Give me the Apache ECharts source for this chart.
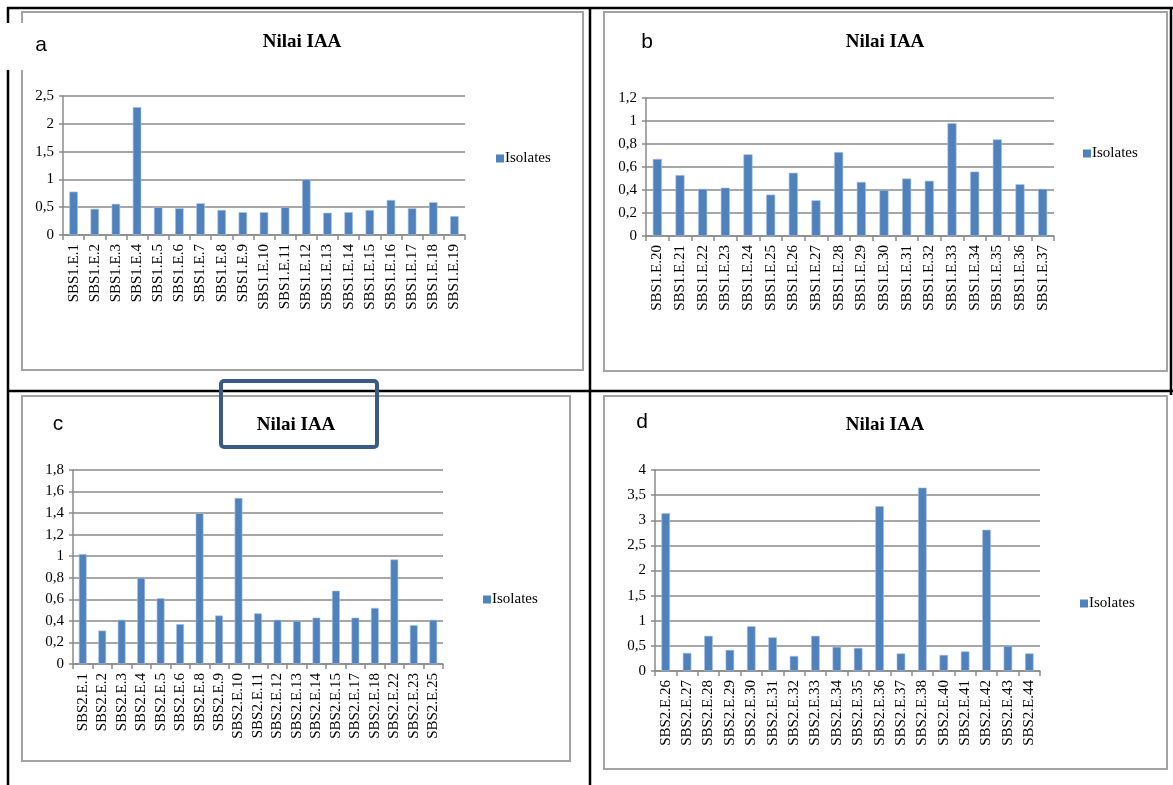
<!DOCTYPE html>
<html>
<head>
<meta charset="utf-8">
<script src="https://cdn.jsdelivr.net/npm/echarts@6/dist/echarts.min.js"></script>
<style>
  html, body { margin: 0; padding: 0; background: #fff; }
  #chart { width: 1173px; height: 785px; }
</style>
</head>
<body>
<div id="chart"></div>
<script>
// categories and values per panel
const catsA = ['SBS1.E.1', 'SBS1.E.2', 'SBS1.E.3', 'SBS1.E.4', 'SBS1.E.5', 'SBS1.E.6', 'SBS1.E.7', 'SBS1.E.8', 'SBS1.E.9', 'SBS1.E.10',
  'SBS1.E.11', 'SBS1.E.12', 'SBS1.E.13', 'SBS1.E.14', 'SBS1.E.15', 'SBS1.E.16', 'SBS1.E.17', 'SBS1.E.18', 'SBS1.E.19']
const valsA = [0.78, 0.47, 0.56, 2.30, 0.50, 0.48, 0.57, 0.45, 0.41, 0.41, 0.50, 1.00, 0.40, 0.41, 0.45, 0.63, 0.48, 0.59, 0.34]

const catsB = ['SBS1.E.20', 'SBS1.E.21', 'SBS1.E.22', 'SBS1.E.23', 'SBS1.E.24', 'SBS1.E.25', 'SBS1.E.26', 'SBS1.E.27', 'SBS1.E.28',
  'SBS1.E.29', 'SBS1.E.30', 'SBS1.E.31', 'SBS1.E.32', 'SBS1.E.33', 'SBS1.E.34', 'SBS1.E.35', 'SBS1.E.36', 'SBS1.E.37']
const valsB = [0.67, 0.53, 0.41, 0.42, 0.71, 0.36, 0.55, 0.31, 0.73, 0.47, 0.40, 0.50, 0.48, 0.98, 0.56, 0.84, 0.45, 0.41]

const catsC = ['SBS2.E.1', 'SBS2.E.2', 'SBS2.E.3', 'SBS2.E.4', 'SBS2.E.5', 'SBS2.E.6', 'SBS2.E.8', 'SBS2.E.9', 'SBS2.E.10', 'SBS2.E.11',
  'SBS2.E.12', 'SBS2.E.13', 'SBS2.E.14', 'SBS2.E.15', 'SBS2.E.17', 'SBS2.E.18', 'SBS2.E.22', 'SBS2.E.23', 'SBS2.E.25']
const valsC = [1.02, 0.31, 0.41, 0.80, 0.61, 0.37, 1.40, 0.45, 1.54, 0.47, 0.41, 0.40, 0.43, 0.68, 0.43, 0.52, 0.97, 0.36, 0.41]

const catsD = ['SBS2.E.26', 'SBS2.E.27', 'SBS2.E.28', 'SBS2.E.29', 'SBS2.E.30', 'SBS2.E.31', 'SBS2.E.32', 'SBS2.E.33', 'SBS2.E.34',
  'SBS2.E.35', 'SBS2.E.36', 'SBS2.E.37', 'SBS2.E.38', 'SBS2.E.40', 'SBS2.E.41', 'SBS2.E.42', 'SBS2.E.43', 'SBS2.E.44']
const valsD = [3.14, 0.36, 0.70, 0.42, 0.89, 0.67, 0.30, 0.70, 0.48, 0.46, 3.28, 0.35, 3.65, 0.32, 0.39, 2.81, 0.50, 0.35]

// y axis ranges [max, interval]
const yMaxes = [2.5, 1.2, 1.8, 4]
const yIntervals = [0.5, 0.2, 0.2, 0.5]
const panelLetters = ['a', 'b', 'c', 'd']
const seriesName = 'Isolates'
const chartTitle = 'Nilai IAA'

const serif = '"Liberation Serif", "Times New Roman", serif'
const gridColor = '#8a8a8a'
const barColor = '#4f81bd'

// plot area of every panel
const grids = [
  { left: 63, top: 96, width: 402, height: 139 },
  { left: 646, top: 98, width: 408, height: 138 },
  { left: 73, top: 470, width: 370, height: 194 },
  { left: 655, top: 470, width: 385, height: 201 }
]
const titlePos = [[302, 33], [885, 33], [296, 416], [885, 416]]
const letterPos = [[41, 35], [647, 32], [58, 414], [642, 412]]
const legendPos = [[496, 151], [1083, 146], [483, 592], [1080, 596]]

const cats = [catsA, catsB, catsC, catsD]
const vals = [valsA, valsB, valsC, valsD]

const fmtComma = v => String(+(+v).toFixed(2)).replace('.', ',')

const option = {
  animation: false,
  backgroundColor: '#fff',
  title: [
    ...titlePos.map(p => ({
      text: chartTitle,
      left: p[0],
      top: p[1],
      textAlign: 'center',
      padding: 0,
      textStyle: { fontFamily: serif, fontSize: 19, fontWeight: 'bold', color: '#000' }
    })),
    ...letterPos.map((p, i) => ({
      text: panelLetters[i],
      left: p[0],
      top: p[1],
      textAlign: 'center',
      padding: 0,
      z: 20,
      textStyle: { fontFamily: '"Liberation Sans", Arial, sans-serif', fontSize: 21, fontWeight: 'normal', color: '#000' }
    }))
  ],
  legend: legendPos.map(p => ({
    data: [seriesName],
    left: p[0],
    top: p[1],
    padding: 0,
    icon: 'rect',
    itemWidth: 8,
    itemHeight: 8,
    itemGap: 2,
    selectedMode: false,
    itemStyle: { color: barColor, borderWidth: 0 },
    textStyle: { fontFamily: serif, fontSize: 15, color: '#000', padding: [0, 0, 0, -4] }
  })),
  grid: grids.map(g => ({ ...g, containLabel: false })),
  xAxis: cats.map((c, i) => ({
    type: 'category',
    gridIndex: i,
    data: c,
    axisLine: { lineStyle: { color: gridColor, width: 1.5 } },
    axisTick: { show: true, length: 5, lineStyle: { color: gridColor, width: 1.5 } },
    axisLabel: {
      interval: 0,
      rotate: 90,
      margin: 9,
      fontFamily: serif,
      fontSize: 15,
      color: '#000'
    },
    splitLine: { show: false }
  })),
  yAxis: yMaxes.map((m, i) => ({
    type: 'value',
    gridIndex: i,
    min: 0,
    max: m,
    interval: yIntervals[i],
    axisLine: { show: true, lineStyle: { color: gridColor, width: 1.5 } },
    axisTick: { show: true, length: 4, lineStyle: { color: gridColor, width: 1.5 } },
    axisLabel: {
      margin: 9,
      fontFamily: serif,
      fontSize: 15,
      color: '#000',
      formatter: fmtComma
    },
    splitLine: { show: true, lineStyle: { color: gridColor, width: 1.5 } }
  })),
  series: vals.map((v, i) => ({
    name: seriesName,
    type: 'bar',
    xAxisIndex: i,
    yAxisIndex: i,
    data: v,
    barCategoryGap: '60%',
    itemStyle: { color: barColor, borderColor: '#a9c1e0', borderWidth: 0.6 }
  })),
  graphic: [
    // gray chart-area frames
    { type: 'rect', shape: { x: 22, y: 12, width: 561, height: 358 }, style: { fill: null, stroke: '#a3a3a3', lineWidth: 2 }, z: 1 },
    { type: 'rect', shape: { x: 604, y: 12, width: 563, height: 359 }, style: { fill: null, stroke: '#a3a3a3', lineWidth: 2 }, z: 1 },
    { type: 'rect', shape: { x: 22, y: 396, width: 548, height: 365 }, style: { fill: null, stroke: '#a3a3a3', lineWidth: 2 }, z: 1 },
    { type: 'rect', shape: { x: 604, y: 396, width: 563, height: 373 }, style: { fill: null, stroke: '#a3a3a3', lineWidth: 2 }, z: 1 },
    // black table lines
    { type: 'line', shape: { x1: 7, y1: 8, x2: 1173, y2: 8 }, style: { stroke: '#000', lineWidth: 2.5 }, z: 2 },
    { type: 'line', shape: { x1: 8, y1: 7, x2: 8, y2: 785 }, style: { stroke: '#000', lineWidth: 2.5 }, z: 2 },
    { type: 'line', shape: { x1: 590, y1: 7, x2: 590, y2: 785 }, style: { stroke: '#000', lineWidth: 2.5 }, z: 2 },
    { type: 'line', shape: { x1: 1171, y1: 7, x2: 1171, y2: 395 }, style: { stroke: '#000', lineWidth: 2.5 }, z: 2 },
    { type: 'line', shape: { x1: 7, y1: 391, x2: 1173, y2: 391 }, style: { stroke: '#000', lineWidth: 2.5 }, z: 2 },
    // white patch behind the "a" label
    { type: 'rect', shape: { x: 4, y: 23, width: 40, height: 47 }, style: { fill: '#fff' }, z: 3 },
    // highlight box around panel c title
    { type: 'rect', shape: { x: 221, y: 381, width: 156, height: 66, r: 3 }, style: { fill: null, stroke: '#3a5a86', lineWidth: 4 }, z: 5 }
  ]
}

const myChart = echarts.init(document.getElementById('chart'), null, { renderer: 'canvas' })
myChart.setOption(option)
</script>
</body>
</html>
